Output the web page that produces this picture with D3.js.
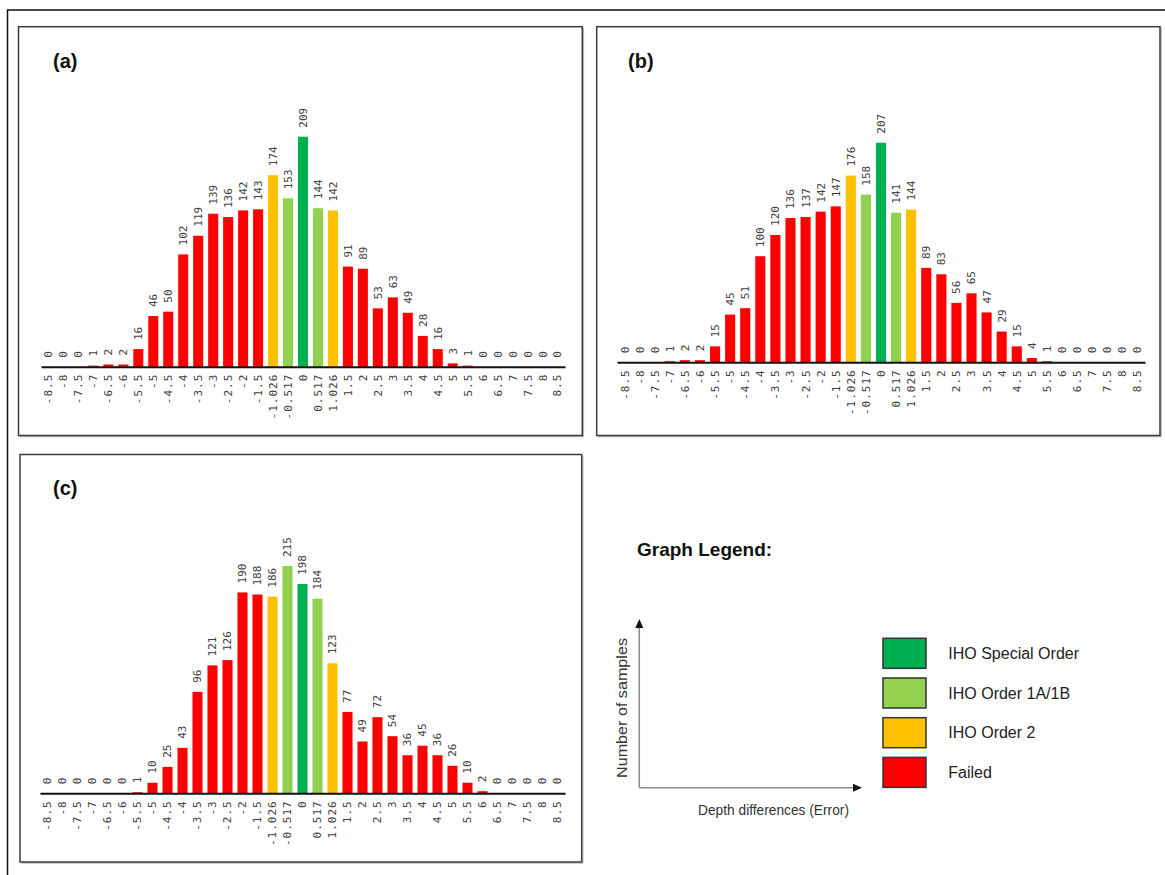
<!DOCTYPE html>
<html>
<head>
<meta charset="utf-8">
<script src="https://cdn.jsdelivr.net/npm/d3@7"></script>
<style>
  html, body { margin: 0; padding: 0; background: #fff; }
  svg { display: block; }
</style>
</head>
<body>
<svg id="chart" width="1165" height="875"></svg>
<script>
// ---------------- DATA ----------------
const categories = ["-8.5","-8","-7.5","-7","-6.5","-6","-5.5","-5","-4.5","-4","-3.5","-3","-2.5","-2","-1.5",
  "-1.026","-0.517","0","0.517","1.026",
  "1.5","2","2.5","3","3.5","4","4.5","5","5.5","6","6.5","7","7.5","8","8.5"];

const categoryClass = ["Failed","Failed","Failed","Failed","Failed","Failed","Failed","Failed","Failed","Failed","Failed","Failed","Failed","Failed","Failed",
  "IHO Order 2","IHO Order 1A/1B","IHO Special Order","IHO Order 1A/1B","IHO Order 2",
  "Failed","Failed","Failed","Failed","Failed","Failed","Failed","Failed","Failed","Failed","Failed","Failed","Failed","Failed","Failed"];

const valuesA = [0,0,0,1,2,2,16,46,50,102,119,139,136,142,143,174,153,209,144,142,91,89,53,63,49,28,16,3,1,0,0,0,0,0,0];
const valuesB = [0,0,0,1,2,2,15,45,51,100,120,136,137,142,147,176,158,207,141,144,89,83,56,65,47,29,15,4,1,0,0,0,0,0,0];
const valuesC = [0,0,0,0,0,0,1,10,25,43,96,121,126,190,188,186,215,198,184,123,77,49,72,54,36,45,36,26,10,2,0,0,0,0,0];

const panelTitles = ["(a)", "(b)", "(c)"];

const legendLabels = ["IHO Special Order", "IHO Order 1A/1B", "IHO Order 2", "Failed"];
const legendColors = ["#00B050", "#92D050", "#FFC000", "#FF0000"];

const legendTitle = "Graph Legend:";
const legendYLabel = "Number of samples";
const legendXLabel = "Depth differences (Error)";

// ---------------- LAYOUT ----------------
const colorScale = d3.scaleOrdinal().domain(legendLabels).range(legendColors);

const panels = [
  { title: panelTitles[0], values: valuesA, box: [18.5, 26.7, 582.3, 435.5], xr: [41, 565], base: 366.7, top: 136.7, tx: 53, ty: 67.5 },
  { title: panelTitles[1], values: valuesB, box: [596.7, 26.7, 1160, 435.5], xr: [617, 1145], base: 362.3, top: 142.7, tx: 628, ty: 67.5 },
  { title: panelTitles[2], values: valuesC, box: [20, 454.5, 581.7, 862], xr: [40, 565], base: 793.3, top: 566, tx: 53, ty: 495 }
];

const svg = d3.select("#chart");

// outer frame
svg.append("path")
  .attr("d", "M7.5,875 L7.5,10 L1165,10")
  .attr("fill", "none").attr("stroke", "#111").attr("stroke-width", 1.5);

const monoFont = "'DejaVu Sans Mono', 'Liberation Mono', monospace";

panels.forEach(p => {
  const [x0, y0, x1, y1] = p.box;
  const g = svg.append("g");

  // panel frame with slight shadow
  g.append("path")
    .attr("d", `M${x1 + 1.2},${y0 + 1} L${x1 + 1.2},${y1 + 1.2} L${x0 + 1},${y1 + 1.2}`)
    .attr("fill", "none").attr("stroke", "#bbb").attr("stroke-width", 1.2);
  g.append("rect")
    .attr("x", x0).attr("y", y0).attr("width", x1 - x0).attr("height", y1 - y0)
    .attr("fill", "none").attr("stroke", "#3a3a3a").attr("stroke-width", 1.5);

  // title
  g.append("text")
    .attr("x", p.tx).attr("y", p.ty)
    .attr("font-family", "'Liberation Sans', Arial, sans-serif")
    .attr("font-weight", "bold").attr("font-size", 20).attr("fill", "#111")
    .text(p.title);

  const x = d3.scaleBand().domain(categories).range(p.xr).paddingInner(0.33).paddingOuter(0.165);
  const maxV = d3.max(p.values);
  const y = d3.scaleLinear().domain([0, maxV]).range([p.base, p.top]);

  const data = categories.map((c, i) => ({ cat: c, v: p.values[i], cls: categoryClass[i] }));

  // bars
  g.append("g").selectAll("rect").data(data).join("rect")
    .attr("x", d => x(d.cat))
    .attr("y", d => y(d.v))
    .attr("width", x.bandwidth())
    .attr("height", d => y(0) - y(d.v))
    .attr("fill", d => colorScale(d.cls));

  // value labels
  g.append("g").selectAll("text").data(data).join("text")
    .attr("transform", d => `translate(${x(d.cat) + x.bandwidth() / 2},${y(d.v) - 9}) rotate(-90)`)
    .attr("dy", "0.36em")
    .attr("text-anchor", "start")
    .attr("font-family", monoFont)
    .attr("font-size", 11)
    .attr("fill", "#404040")
    .text(d => d.v);

  // x axis
  const axis = d3.axisBottom(x).tickSize(0).tickPadding(0);
  const ag = g.append("g").attr("transform", `translate(0,${p.base})`).call(axis);
  ag.select(".domain").attr("stroke", "#111").attr("stroke-width", 2);
  ag.selectAll(".tick text")
    .attr("transform", "translate(0,7) rotate(-90)")
    .attr("x", 0).attr("y", 0)
    .attr("dy", "0.36em")
    .attr("text-anchor", "end")
    .attr("font-family", monoFont)
    .attr("font-size", 11)
    .attr("letter-spacing", "1px")
    .attr("fill", "#404040");
});

// ---------------- LEGEND ----------------
const lg = svg.append("g");
lg.append("text")
  .attr("x", 637).attr("y", 555.5)
  .attr("font-family", "'Liberation Sans', Arial, sans-serif")
  .attr("font-weight", "bold").attr("font-size", 19).attr("fill", "#111")
  .text(legendTitle);

// schematic axes
const ax0 = 639.3, ay0 = 787.7;
lg.append("line").attr("x1", ax0).attr("y1", ay0).attr("x2", ax0).attr("y2", 626)
  .attr("stroke", "#8a8a8a").attr("stroke-width", 1.5);
lg.append("line").attr("x1", ax0).attr("y1", ay0).attr("x2", 855).attr("y2", ay0)
  .attr("stroke", "#8a8a8a").attr("stroke-width", 1.5);
lg.append("path").attr("d", `M${ax0},619 L${ax0 - 4},628 L${ax0 + 4},628 Z`).attr("fill", "#111");
lg.append("path").attr("d", `M862,${ay0} L853,${ay0 - 4} L853,${ay0 + 4} Z`).attr("fill", "#111");

lg.append("text")
  .attr("transform", "translate(627,708) rotate(-90)")
  .attr("text-anchor", "middle")
  .attr("font-family", "'Liberation Sans', Arial, sans-serif")
  .attr("font-size", 15).attr("fill", "#333")
  .attr("textLength", 140).attr("lengthAdjust", "spacingAndGlyphs")
  .text(legendYLabel);

lg.append("text")
  .attr("x", 773.5).attr("y", 815)
  .attr("text-anchor", "middle")
  .attr("font-family", "'Liberation Sans', Arial, sans-serif")
  .attr("font-size", 15).attr("fill", "#333")
  .attr("textLength", 151).attr("lengthAdjust", "spacingAndGlyphs")
  .text(legendXLabel);

const ly = d3.scaleBand().domain(legendLabels).range([638.3, 787.4]).paddingInner(0.244).paddingOuter(0);
const items = lg.append("g").selectAll("g").data(legendLabels).join("g");
items.append("rect")
  .attr("x", 883).attr("y", d => ly(d))
  .attr("width", 43).attr("height", ly.bandwidth())
  .attr("fill", d => colorScale(d))
  .attr("stroke", "#333").attr("stroke-width", 1.5);
items.append("text")
  .attr("x", 948.3).attr("y", d => ly(d) + ly.bandwidth() / 2 + 5.5)
  .attr("font-family", "'Liberation Sans', Arial, sans-serif")
  .attr("font-size", 16).attr("fill", "#222")
  .text(d => d);
</script>
</body>
</html>
